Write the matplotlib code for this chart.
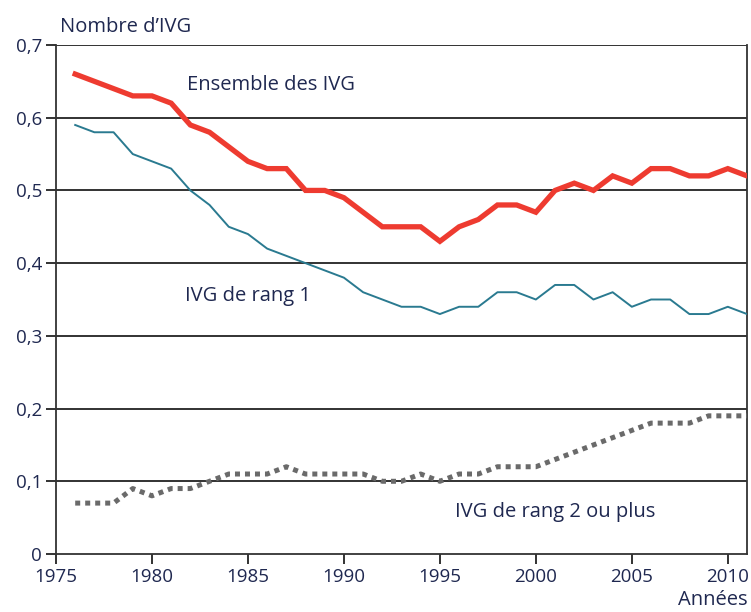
import matplotlib
matplotlib.use("Agg")
import matplotlib.pyplot as plt

years = list(range(1976, 2012))
ensemble = [0.66, 0.65, 0.64, 0.63, 0.63, 0.62, 0.59, 0.58, 0.56, 0.54, 0.53, 0.53,
            0.50, 0.50, 0.49, 0.47, 0.45, 0.45, 0.45, 0.43, 0.45, 0.46, 0.48, 0.48,
            0.47, 0.50, 0.51, 0.50, 0.52, 0.51, 0.53, 0.53, 0.52, 0.52, 0.53, 0.52]
rang1 = [0.59, 0.58, 0.58, 0.55, 0.54, 0.53, 0.50, 0.48, 0.45, 0.44, 0.42, 0.41,
         0.40, 0.39, 0.38, 0.36, 0.35, 0.34, 0.34, 0.33, 0.34, 0.34, 0.36, 0.36,
         0.35, 0.37, 0.37, 0.35, 0.36, 0.34, 0.35, 0.35, 0.33, 0.33, 0.34, 0.33]
rang2 = [0.07, 0.07, 0.07, 0.09, 0.08, 0.09, 0.09, 0.10, 0.11, 0.11, 0.11, 0.12,
         0.11, 0.11, 0.11, 0.11, 0.10, 0.10, 0.11, 0.10, 0.11, 0.11, 0.12, 0.12,
         0.12, 0.13, 0.14, 0.15, 0.16, 0.17, 0.18, 0.18, 0.18, 0.19, 0.19, 0.19]
xticks = [1975, 1980, 1985, 1990, 1995, 2000, 2005, 2010]
yticks = [0, 0.1, 0.2, 0.3, 0.4, 0.5, 0.6, 0.7]
ytick_labels = ["0", "0,1", "0,2", "0,3", "0,4", "0,5", "0,6", "0,7"]

plt.rcParams['font.family'] = ['Open Sans', 'DejaVu Sans']
navy = "#1f2850"
fs = 13.5
fs_lab = 14.5

fig = plt.figure(figsize=(7.51, 6.12), dpi=100)
ax = fig.add_axes([56/751, 58/612, (747-56)/751, (554-45)/612])

for y in yticks[1:]:
    ax.axhline(y, color="#222222", lw=1.3, zorder=1)

ax.plot(years, ensemble, color="#ee3b30", lw=3.8, zorder=3, solid_joinstyle="miter")
ax.plot(years, rang1, color="#2a7a90", lw=1.4, zorder=3)
ax.plot(years, rang2, color="#6a6a6a", lw=3.6, linestyle=(0, (1, 1)),
        dash_capstyle="butt", zorder=3)

ax.set_xlim(1975, 2011)
ax.set_ylim(0, 0.7)
ax.set_xticks(xticks)
ax.set_xticklabels([str(x) for x in xticks])
ax.set_yticks(yticks)
ax.set_yticklabels(ytick_labels)
ax.tick_params(axis="both", direction="out", length=7, width=1.3, color="#222222",
               labelsize=fs, labelcolor=navy, pad=3)
for s in ["left", "bottom", "right", "top"]:
    ax.spines[s].set_color("#333333")
    ax.spines[s].set_linewidth(1.3)
ax.spines["top"].set_visible(False)

ax.text(1986.2, 0.645, "Ensemble des IVG", fontsize=fs_lab, color=navy, ha="center", va="center")
ax.text(1985.0, 0.355, "IVG de rang 1", fontsize=fs_lab, color=navy, ha="center", va="center")
ax.text(2001.0, 0.058, "IVG de rang 2 ou plus", fontsize=fs_lab, color=navy, ha="center", va="center")

fig.text(60/751, 1 - 27/612, "Nombre d\u2019IVG", fontsize=fs_lab, color=navy, ha="left", va="center")
fig.text(748/751, 1 - 600/612, "Années", fontsize=fs_lab, color=navy, ha="right", va="center")

fig.savefig("out.png", dpi=100)
